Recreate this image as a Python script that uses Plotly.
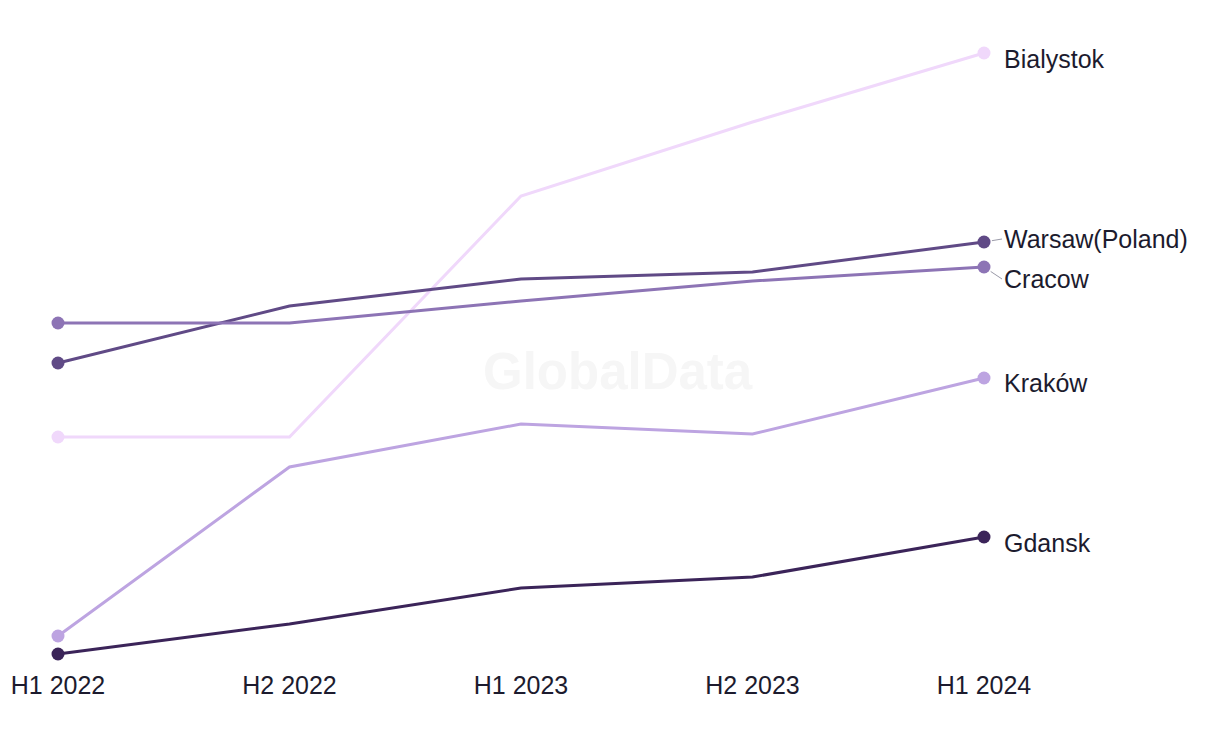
import plotly.graph_objects as go

periods = ["H1 2022", "H2 2022", "H1 2023", "H2 2023", "H1 2024"]
cities = ["Bialystok", "Warsaw(Poland)", "Cracow", "Kraków", "Gdansk"]
bialystok = [26.3, 26.3, 50.4, 57.8, 64.7]
warsaw = [33.7, 39.4, 42.1, 42.8, 45.8]
cracow = [37.7, 37.7, 39.9, 41.9, 43.3]
krakow = [6.4, 23.3, 27.6, 26.6, 32.2]
gdansk = [4.6, 7.6, 11.2, 12.3, 16.3]
series = [bialystok, warsaw, cracow, krakow, gdansk]
colors = ["#f0d8fb", "#604a86", "#8d74b5", "#bda4e1", "#3b2459"]
label_yshift = [-6, 3, -12, -5, -6]
label_ax = [None, 18, 18, None, None]
label_ay = [None, -3, 12, None, None]

x_idx = list(range(len(periods)))
FONT = "Liberation Sans, Arial, sans-serif"

fig = go.Figure()
for name, vals, col in zip(cities, series, colors):
    fig.add_trace(go.Scatter(
        x=x_idx, y=vals, mode="lines", name=name,
        line=dict(color=col, width=3),
        showlegend=False, hoverinfo="skip"))
for name, vals, col in zip(cities, series, colors):
    fig.add_trace(go.Scatter(
        x=[x_idx[0], x_idx[-1]], y=[vals[0], vals[-1]], mode="markers", name=name,
        marker=dict(color=col, size=13, opacity=1, line=dict(width=0)),
        showlegend=False, hoverinfo="skip"))

for name, vals, col, ys, ax, ay in zip(cities, series, colors, label_yshift, label_ax, label_ay):
    if ax is None:
        fig.add_annotation(x=x_idx[-1], y=vals[-1], text=name, showarrow=False,
                           xanchor="left", yanchor="middle", xshift=18, yshift=ys,
                           font=dict(size=25, color="#1c1b2e", family=FONT))
    else:
        fig.add_annotation(x=x_idx[-1], y=vals[-1], text=name, showarrow=True,
                           ax=ax, ay=ay, xanchor="left", yanchor="middle",
                           arrowhead=0, arrowwidth=1, arrowcolor="#9a9aa8", standoff=8,
                           font=dict(size=25, color="#1c1b2e", family=FONT))

fig.add_annotation(x=0.5, y=0.45, xref="paper", yref="paper", text="<b>GlobalData</b>",
                   showarrow=False, font=dict(size=51, color="#f6f6f6", family=FONT))

fig.update_layout(
    width=1220, height=744,
    margin=dict(l=0, r=0, t=0, b=84),
    paper_bgcolor="white", plot_bgcolor="white",
    xaxis=dict(range=[-0.216, 5.054], tickvals=x_idx, ticktext=periods,
               showgrid=False, zeroline=False, showline=False, ticks="",
               tickfont=dict(size=25, color="#1c1b2e", family=FONT)),
    yaxis=dict(range=[3.2, 69.2], showgrid=False, zeroline=False, showline=False,
               showticklabels=False),
)
fig.write_html("out.html")
